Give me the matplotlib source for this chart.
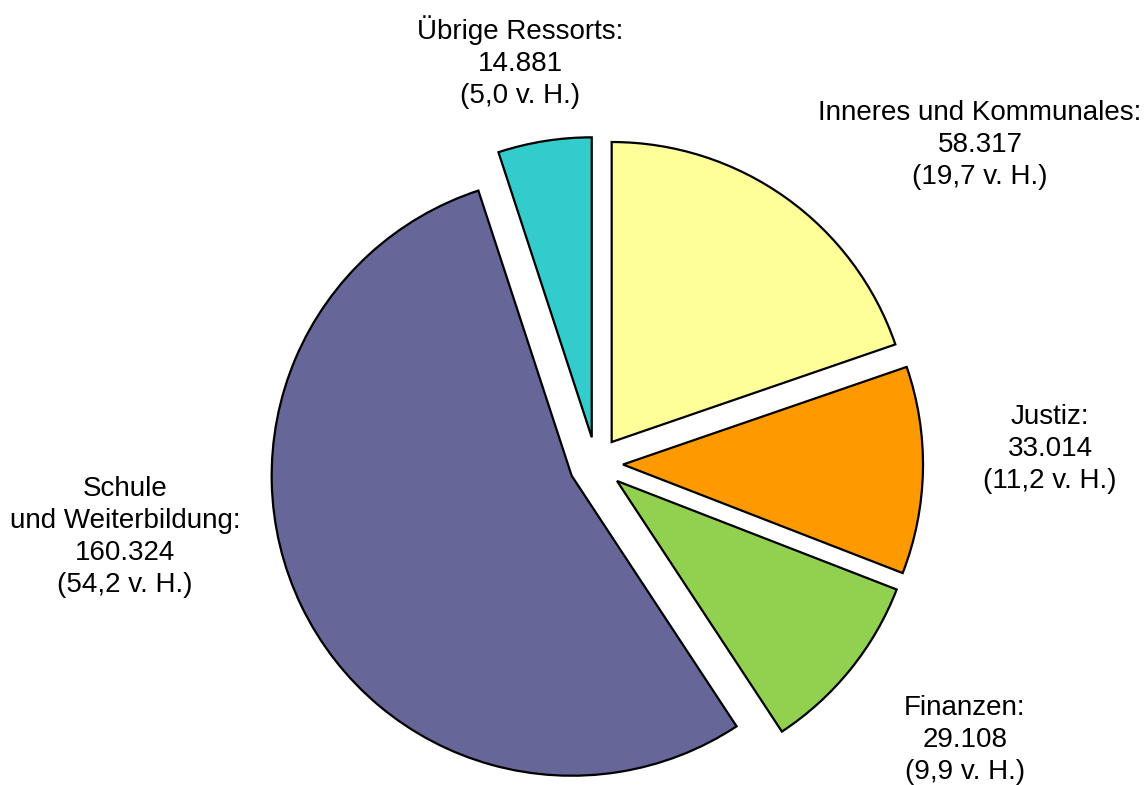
import matplotlib
matplotlib.use("Agg")
import matplotlib.pyplot as plt

# Data
categories = ["Inneres und Kommunales", "Justiz", "Finanzen",
              "Schule\nund Weiterbildung", "Übrige Ressorts"]
values = [58317, 33014, 29108, 160324, 14881]
shares = [19.7, 11.2, 9.9, 54.2, 5.0]
colors = ["#FFFF99", "#FF9900", "#92D050", "#666699", "#33CCCC"]

W, H = 1147, 785
fig = plt.figure(figsize=(W / 100, H / 100), dpi=100)
ax = fig.add_axes([0, 0, 1, 1])

cx, cy, r = 596, H - 464, 300
ax.pie(values, colors=colors, startangle=90, counterclock=False,
       center=(cx, cy), radius=r, explode=[27] * len(values),
       wedgeprops=dict(edgecolor="black", linewidth=1.6), frame=True)
ax.set_xlim(0, W)
ax.set_ylim(0, H)
ax.set_aspect("equal")
ax.axis("off")

def fmt_val(v):
    return f"{v:,}".replace(",", ".")

def fmt_pct(p):
    return f"({p:.1f}".replace(".", ",") + " v. H.)"

label_pos = [(980, 145), (1050, 449), (965, 740), (125, 537), (520, 62)]
for cat, v, p, (lx, ly) in zip(categories, values, shares, label_pos):
    txt = f"{cat}:\n{fmt_val(v)}\n{fmt_pct(p)}"
    ax.text(lx, H - ly, txt, ha="center", va="center", multialignment="center",
            fontsize=20, family=["Liberation Sans", "DejaVu Sans"],
            linespacing=1.3)

fig.savefig("out.png", dpi=100)
